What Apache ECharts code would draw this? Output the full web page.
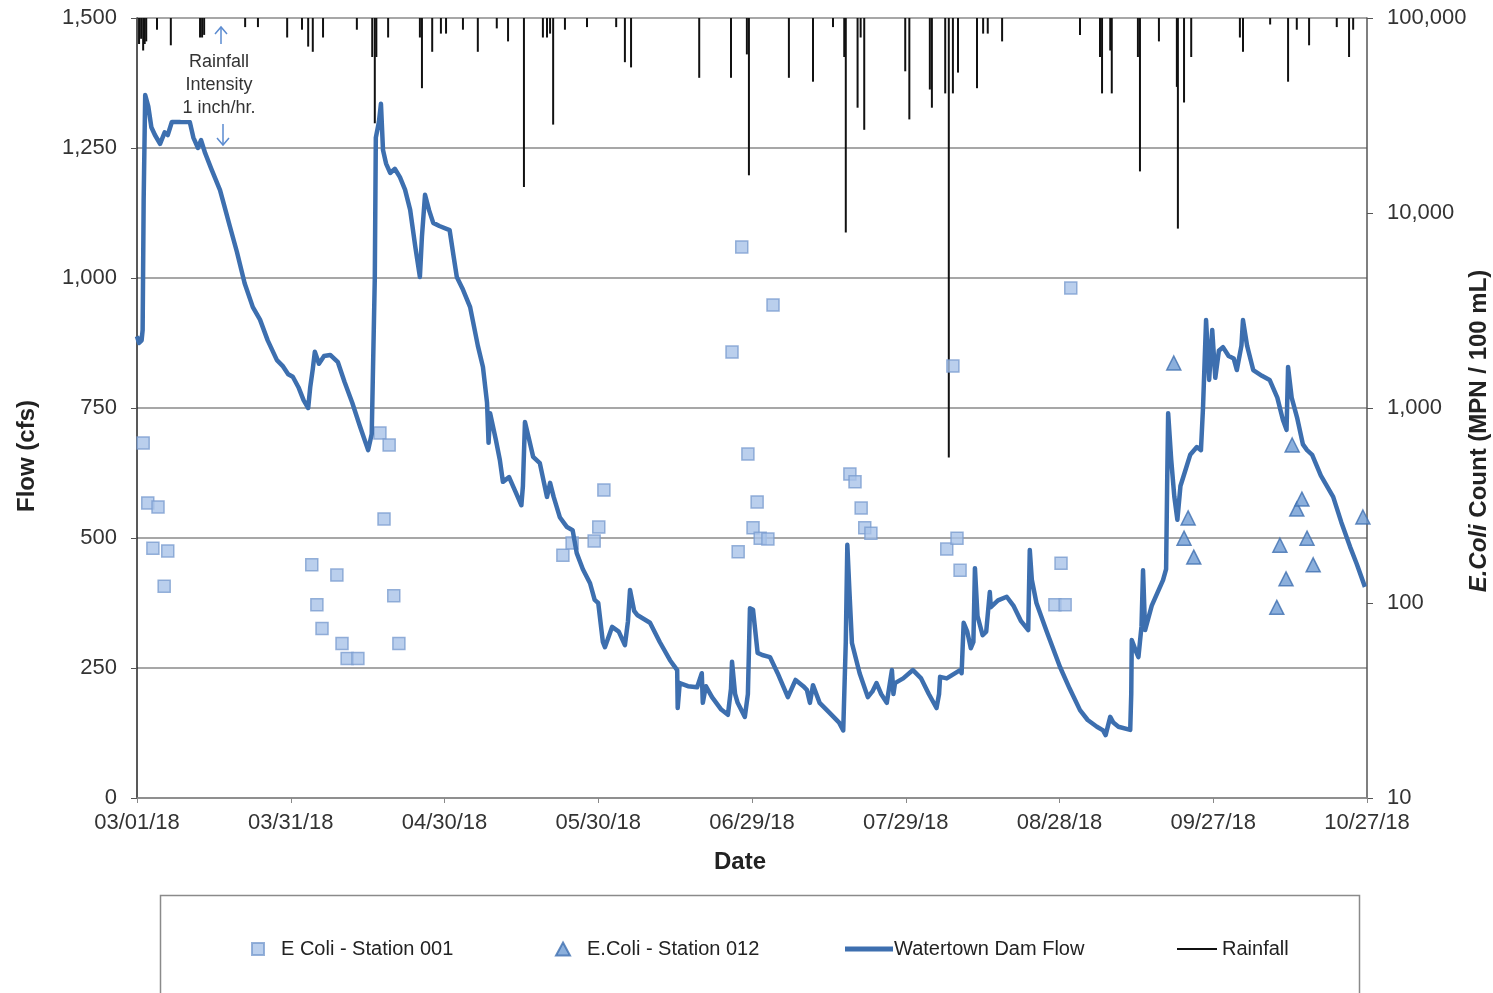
<!DOCTYPE html>
<html lang="en" style="height: 100%">
<head>
  <meta charset="utf-8">
</head>
<body style="height: 100%; margin: 0; background: #fff">
  <div id="container" style="width: 1493px; height: 993px"></div>

<script type="text/javascript" src="https://cdn.jsdelivr.net/npm/echarts@6/dist/echarts.min.js"></script>

<script type="text/javascript">
var dom = document.getElementById('container');
var myChart = echarts.init(dom, null, { renderer: 'canvas' });

// x = days since 03/01/18
var dateLabels = ['03/01/18', '03/31/18', '04/30/18', '05/30/18', '06/29/18',
  '07/29/18', '08/28/18', '09/27/18', '10/27/18'];

// Watertown Dam flow [day, cfs]
var flowData = [
  [0, 888], [0.4, 875], [0.9, 880], [1.1, 900], [1.3, 1150], [1.6, 1352], [2.2, 1330], [2.8, 1290],
  [3.5, 1275], [4.5, 1258], [5.4, 1280], [6.0, 1275], [6.8, 1300], [9.0, 1300], [10.3, 1300],
  [11.0, 1270], [11.9, 1250], [12.5, 1265], [13.3, 1240], [14.5, 1210], [16.2, 1169], [17.0, 1140],
  [18.1, 1100], [19.5, 1050], [21.0, 990], [22.6, 944], [24.0, 920], [25.5, 880], [27.3, 842],
  [28.5, 830], [29.5, 815], [30.4, 810], [31.5, 790], [32.5, 765], [33.4, 750], [33.8, 790],
  [34.3, 825], [34.7, 858], [35.5, 835], [36.5, 850], [37.7, 852], [39.2, 838], [40.5, 800],
  [42.0, 760], [43.5, 715], [45.1, 669], [45.8, 700], [46.4, 1000], [46.6, 1270], [47.2, 1300],
  [47.6, 1335], [48.0, 1246], [48.6, 1220], [49.4, 1202], [50.3, 1210], [51.3, 1194], [52.3, 1170],
  [53.3, 1131], [54.3, 1060], [55.2, 1002], [55.6, 1080], [56.2, 1160], [57.0, 1130], [57.8, 1106],
  [59.0, 1100], [61.0, 1092], [61.8, 1040], [62.4, 1002], [63.5, 980], [65.0, 944], [66.5, 870],
  [67.5, 829], [68.3, 760], [68.6, 683], [68.9, 740], [70.0, 690], [70.8, 650], [71.4, 608],
  [72.6, 617], [73.8, 590], [75.0, 563], [75.3, 600], [75.7, 723], [76.5, 690], [77.3, 656],
  [78.6, 644], [80.0, 579], [80.6, 606], [81.3, 579], [82.5, 540], [83.9, 521], [85.0, 515],
  [85.8, 471], [87.0, 440], [88.4, 413], [89.3, 381], [90.0, 375], [90.9, 300], [91.3, 290],
  [92.7, 329], [94.0, 320], [95.2, 294], [95.8, 340], [96.2, 400], [97.0, 360], [97.6, 352],
  [100.1, 337], [102.0, 300], [104.0, 265], [105.4, 246], [105.5, 173], [105.9, 221], [107.5, 215],
  [109.3, 213], [110.2, 240], [110.4, 183], [111.0, 215], [112.2, 194], [114.0, 170], [115.3, 160],
  [115.9, 210], [116.1, 262], [116.7, 200], [117.2, 183], [118.6, 156], [119.2, 200], [119.6, 365],
  [120.2, 362], [121.1, 279], [122.0, 275], [123.5, 271], [125.0, 240], [127.0, 194], [128.5, 227],
  [130.0, 215], [130.7, 208], [131.3, 183], [131.9, 217], [133.2, 183], [135.0, 165], [137.0, 145],
  [137.8, 130], [138.3, 300], [138.6, 487], [139.0, 400], [139.5, 298], [141.0, 240], [142.6, 194],
  [143.5, 205], [144.3, 221], [145.2, 200], [146.3, 183], [147.3, 246], [147.6, 200], [147.9, 221],
  [149.5, 230], [151.4, 246], [153.0, 230], [154.5, 200], [156.0, 173], [156.5, 200], [156.7, 233],
  [158.0, 230], [160.6, 246], [160.9, 240], [161.3, 337], [162.0, 320], [162.7, 288], [163.2, 300],
  [163.5, 442], [164.0, 350], [165.0, 313], [165.7, 320], [166.4, 396], [166.6, 367], [168.0, 380],
  [169.7, 387], [171.0, 370], [172.5, 340], [173.9, 323], [174.2, 477], [174.6, 420], [175.5, 375],
  [177.5, 320], [180.1, 252], [182.0, 210], [184.0, 169], [185.5, 150], [187.3, 137], [188.5, 130],
  [189.0, 121], [189.9, 156], [190.5, 145], [191.5, 137], [193.8, 131], [194.0, 200], [194.1, 304],
  [195.0, 280], [195.4, 271], [196.0, 330], [196.3, 438], [196.7, 323], [198.0, 370], [200.2, 419],
  [200.8, 440], [201.0, 600], [201.2, 740], [201.8, 650], [202.4, 580], [203.0, 535], [203.6, 600],
  [204.4, 625], [205.5, 660], [206.8, 675], [207.6, 669], [208.0, 750], [208.6, 919], [209.2, 804],
  [209.8, 900], [210.4, 808], [211.1, 860], [211.9, 867], [213.0, 850], [214.0, 845], [214.6, 823],
  [215.5, 870], [215.8, 919], [216.6, 870], [217.8, 823], [219.5, 812], [221.0, 804], [222.5, 770],
  [223.6, 727], [224.3, 708], [224.6, 829], [225.3, 770], [226.4, 730], [227.5, 680], [228.3, 669],
  [229.3, 660], [231.0, 620], [233.4, 579], [235.0, 530], [236.7, 483], [238.0, 450], [239.6, 406]
];

// E. coli MPN/100 mL [day, count]
var station001 = [
  [1.2, 662], [2.1, 326], [3.1, 191], [4.1, 311], [5.3, 122], [6.0, 185],
  [34.1, 157], [35.1, 98], [36.1, 74], [39.0, 139], [40.0, 62], [41.0, 52], [43.1, 52],
  [47.4, 745], [48.2, 270], [49.2, 646], [50.1, 109], [51.1, 62],
  [83.1, 176], [84.9, 203], [89.2, 208], [90.1, 245], [91.1, 380],
  [116.1, 1936], [117.3, 183], [118.0, 6700], [119.2, 581], [120.2, 243], [121.0, 330],
  [121.6, 215], [123.1, 213], [124.1, 3375],
  [139.1, 459], [140.1, 418], [141.3, 307], [142.0, 243], [143.2, 228],
  [158.0, 189], [159.2, 1641], [160.0, 215], [160.6, 147],
  [179.1, 98], [180.3, 160], [181.1, 98], [182.2, 4125]
];
var station012 = [
  [202.3, 1702], [204.3, 215], [205.1, 273], [206.2, 172],
  [222.4, 95], [223.0, 198], [224.2, 133], [225.4, 646], [226.3, 303], [227.3, 341],
  [228.3, 215], [229.5, 157], [239.2, 276]
];

// rainfall intensity in/hr [day, value]
var rainData = [
  [0.4, 0.2], [0.8, 0.16], [1.2, 0.25], [1.5, 0.2], [1.8, 0.18], [3.9, 0.09], [6.6, 0.21],
  [12.3, 0.15], [12.7, 0.15], [13.1, 0.13], [21.1, 0.07], [23.6, 0.07], [29.3, 0.15], [32.2, 0.09],
  [33.4, 0.22], [34.3, 0.26], [36.3, 0.15], [42.9, 0.09], [45.9, 0.3], [46.4, 0.81], [46.7, 0.3],
  [49.0, 0.15], [55.2, 0.15], [55.6, 0.54], [57.6, 0.26], [59.3, 0.12], [60.3, 0.12], [63.6, 0.09],
  [66.5, 0.26], [70.2, 0.08], [72.4, 0.18], [75.5, 1.3], [79.2, 0.15], [80.0, 0.15], [80.6, 0.12],
  [81.2, 0.82], [83.5, 0.09], [87.8, 0.07], [93.5, 0.07], [95.2, 0.34], [96.4, 0.38], [109.7, 0.46],
  [115.9, 0.46], [119.0, 0.28], [119.4, 1.21], [127.2, 0.46], [131.9, 0.49], [135.8, 0.07],
  [138.0, 0.3], [138.3, 1.65], [140.6, 0.69], [141.2, 0.15], [141.9, 0.86], [149.9, 0.41],
  [150.7, 0.78], [154.7, 0.55], [155.1, 0.69], [157.7, 0.58], [158.4, 3.38], [159.2, 0.58],
  [160.2, 0.42], [163.9, 0.54], [165.1, 0.12], [166.0, 0.12], [168.8, 0.18], [184.0, 0.13],
  [187.9, 0.3], [188.3, 0.58], [189.9, 0.25], [190.2, 0.58], [195.3, 0.3], [195.7, 1.18],
  [199.4, 0.18], [202.9, 0.53], [203.1, 1.62], [204.3, 0.65], [205.7, 0.3], [215.2, 0.15],
  [215.8, 0.26], [221.1, 0.05], [224.6, 0.49], [226.3, 0.09], [228.7, 0.21], [234.1, 0.07],
  [236.5, 0.3], [237.3, 0.09]
];

var font = 'Liberation Sans, Arial, sans-serif';
var blue = '#3d6faf';

function withCommas(v) {
  return Number(v).toLocaleString('en-US');
}

var option = {
  backgroundColor: '#fff',
  textStyle: { fontFamily: font },
  grid: { left: 137, right: 126, top: 18, bottom: 195, outerBoundsMode: 'none' },
  xAxis: {
    type: 'value',
    min: 0,
    max: 240,
    interval: 30,
    name: 'Date',
    nameLocation: 'middle',
    nameGap: 52,
    nameMoveOverlap: false,
    nameTextStyle: { fontSize: 24, fontWeight: 'bold', color: '#222', padding: [0, 24, 0, 0] },
    axisLine: { lineStyle: { color: '#888', width: 1.5 } },
    axisTick: { show: true, length: 5, lineStyle: { color: '#888' } },
    axisLabel: {
      fontSize: 22, color: '#333', margin: 14, showMinLabel: true, showMaxLabel: true,
      formatter: function (v) { return dateLabels[Math.round(v / 30)]; }
    },
    splitLine: { show: false }
  },
  yAxis: [
    {
      type: 'value',
      min: 0,
      max: 1500,
      interval: 250,
      position: 'left',
      name: 'Flow (cfs)',
      nameLocation: 'middle',
      nameGap: 98,
      nameRotate: 90,
      nameMoveOverlap: false,
      nameTextStyle: { fontSize: 24, fontWeight: 'bold', color: '#222', padding: [0, 96, 0, 0] },
      axisLine: { show: true, lineStyle: { color: '#222', width: 1.5 } },
      axisTick: { show: true, length: 6, lineStyle: { color: '#555' } },
      axisLabel: { fontSize: 22, color: '#333', margin: 20, formatter: withCommas },
      splitLine: { show: true, lineStyle: { color: '#8a8a8a', width: 1.5 } }
    },
    {
      type: 'log',
      logBase: 10,
      min: 10,
      max: 100000,
      position: 'right',
      name: '{i|E.Coli} Count (MPN / 100 mL)',
      nameLocation: 'middle',
      nameGap: 100,
      nameRotate: 90,
      nameMoveOverlap: false,
      nameTextStyle: {
        fontSize: 24, fontWeight: 'bold', color: '#222', padding: [0, 46, 0, 0],
        rich: { i: { fontSize: 24, fontWeight: 'bold', fontStyle: 'italic', color: '#222' } }
      },
      axisLine: { show: true, lineStyle: { color: '#555', width: 1.5 } },
      axisTick: { show: true, length: 6, lineStyle: { color: '#555' } },
      axisLabel: { fontSize: 22, color: '#333', margin: 20, formatter: withCommas },
      splitLine: { show: false }
    },
    {
      type: 'value',
      min: 0,
      max: 6,
      inverse: true,
      show: false,
      splitLine: { show: false }
    }
  ],
  legend: [
    {
      data: ['E Coli - Station 001'], left: 246, top: 934, icon: 'rect',
      itemWidth: 12, itemHeight: 12,
      textStyle: { fontSize: 20, color: '#222', padding: [0, 0, 0, 12] }
    },
    {
      data: ['E.Coli - Station 012'], left: 550, top: 934,
      itemWidth: 14, itemHeight: 13,
      textStyle: { fontSize: 20, color: '#222', padding: [0, 0, 0, 12] }
    },
    {
      data: [{ name: 'Watertown Dam Flow', icon: 'rect' }], left: 840, top: 934,
      itemWidth: 48, itemHeight: 5,
      textStyle: { fontSize: 20, color: '#222', padding: [0, 0, 0, -4] }
    },
    {
      data: [{ name: 'Rainfall', icon: 'rect' }], left: 1172, top: 934,
      itemWidth: 40, itemHeight: 2,
      textStyle: { fontSize: 20, color: '#222' }
    }
  ],
  graphic: [
    {
      type: 'rect', silent: true, z: -1,
      shape: { x: 160.5, y: 895.5, width: 1199, height: 130 },
      style: { fill: 'none', stroke: '#8a8a8a', lineWidth: 1.5 }
    },
    {
      type: 'text', x: 219, y: 51, z: 100,
      style: {
        text: 'Rainfall\nIntensity\n1 inch/hr.', fill: '#333', font: '18px ' + font,
        align: 'center', verticalAlign: 'top', lineHeight: 23, backgroundColor: '#fff', padding: [0, 2]
      }
    },
    {
      type: 'polyline', z: 100,
      shape: { points: [[221, 44], [221, 27]] },
      style: { stroke: '#5b8bd0', lineWidth: 1.5 }
    },
    {
      type: 'polyline', z: 100,
      shape: { points: [[215, 34], [221, 27], [227, 34]] },
      style: { stroke: '#5b8bd0', lineWidth: 1.5, fill: 'none' }
    },
    {
      type: 'polyline', z: 100,
      shape: { points: [[223, 124], [223, 145]] },
      style: { stroke: '#5b8bd0', lineWidth: 1.5 }
    },
    {
      type: 'polyline', z: 100,
      shape: { points: [[217, 138], [223, 145], [229, 138]] },
      style: { stroke: '#5b8bd0', lineWidth: 1.5, fill: 'none' }
    }
  ],
  series: [
    {
      name: 'Watertown Dam Flow',
      type: 'line',
      yAxisIndex: 0,
      data: flowData,
      symbol: 'none',
      lineStyle: { color: blue, width: 4.5, join: 'round' },
      itemStyle: { color: blue }
    },
    {
      name: 'E Coli - Station 001',
      type: 'scatter',
      yAxisIndex: 1,
      data: station001,
      symbol: 'rect',
      symbolSize: 12,
      itemStyle: { color: '#a9c3e8', borderColor: '#7c9ed0', borderWidth: 1.5 }
    },
    {
      name: 'E.Coli - Station 012',
      type: 'scatter',
      yAxisIndex: 1,
      data: station012,
      symbol: 'triangle',
      symbolSize: 14,
      itemStyle: { color: '#6e9bd3', borderColor: '#3e6fb0', borderWidth: 1.5 }
    },
    {
      name: 'Rainfall',
      type: 'bar',
      yAxisIndex: 2,
      data: rainData,
      barWidth: 2,
      barGap: '-100%',
      itemStyle: { color: '#111' }
    }
  ]
};

myChart.setOption(option);
window.addEventListener('resize', myChart.resize);
</script>
</body>
</html>
